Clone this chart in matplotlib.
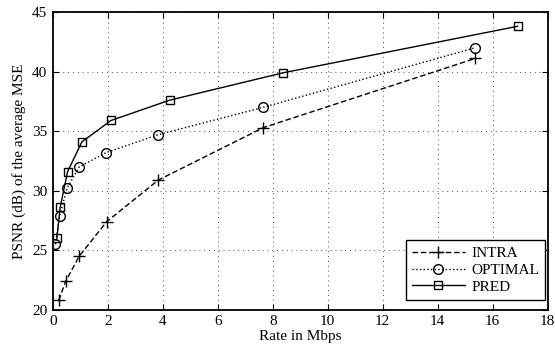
import numpy as np
import matplotlib
matplotlib.use('Agg')
import matplotlib.pyplot as plt

plt.rcParams['font.family'] = ['Liberation Serif', 'DejaVu Serif']
plt.rcParams['mathtext.fontset'] = 'stix'

# rate (Mbps) vs PSNR (dB)
intra_rate = [0.22, 0.47, 0.96, 1.96, 3.84, 7.66, 15.36]
intra_psnr = [20.8, 22.4, 24.5, 27.4, 30.9, 35.3, 41.1]

opt_rate = [0.10, 0.25, 0.52, 0.96, 1.94, 3.83, 7.65, 15.36]
opt_psnr = [25.5, 27.9, 30.2, 32.0, 33.2, 34.7, 37.0, 42.0]

pred_rate = [0.15, 0.27, 0.54, 1.06, 2.12, 4.25, 8.38, 16.9]
pred_psnr = [26.0, 28.6, 31.6, 34.1, 35.9, 37.6, 39.9, 43.8]

xticks = np.arange(0, 19, 2)
yticks = np.arange(20, 46, 5)

fig = plt.figure(figsize=(5.55, 3.53), dpi=100)
ax = fig.add_axes([0.095, 0.122, 0.892, 0.844])

ax.plot(intra_rate, intra_psnr, color='k', ls=(0, (4, 2)), marker='+', lw=1.0, ms=8, mew=1.0, label='INTRA')
ax.plot(opt_rate, opt_psnr, 'k:o', lw=1.0, ms=7, mew=1.0, mfc='none', label='OPTIMAL')
ax.plot(pred_rate, pred_psnr, 'k-s', lw=1.0, ms=6, mew=1.0, mfc='none', label='PRED')

ax.set_xlim(0, 18)
ax.set_ylim(20, 45)
ax.set_xticks(xticks)
ax.set_yticks(yticks)
ax.grid(True, ls=(0, (1, 4)), color='0.3', lw=0.7)
ax.tick_params(direction='in', top=True, right=True, length=4, labelsize=11, pad=4)
for s in ax.spines.values():
    s.set_linewidth(1.3)

ax.set_xlabel('Rate in Mbps', fontsize=11, labelpad=1)
ax.set_ylabel('PSNR (dB) of the average MSE', fontsize=11, labelpad=4)

leg = ax.legend(loc='lower right', bbox_to_anchor=(0.995, 0.034), borderaxespad=0,
                fancybox=False, framealpha=1, edgecolor='k', fontsize=11,
                handlelength=3.5, handletextpad=0.4, labelspacing=0.2,
                borderpad=0.4)
leg.get_frame().set_linewidth(1.0)

fig.savefig('out.png', dpi=100)
